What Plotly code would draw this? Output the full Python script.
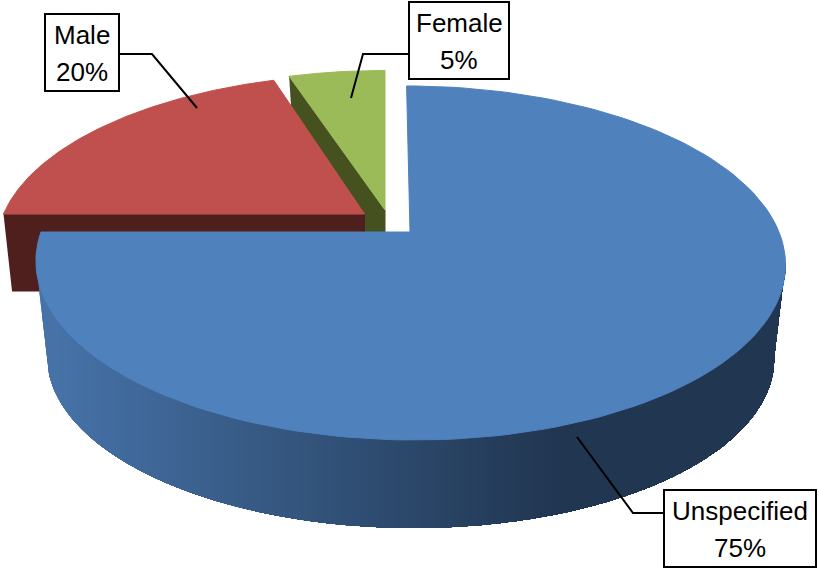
import numpy as np
import plotly.graph_objects as go

categories = ["Unspecified", "Male", "Female"]
values = [75, 20, 5]
top_colors = ["#4F81BD", "#C0504D", "#9BBB59"]
wall_colors = ["#213651", "#4F1F1E", "#45521F"]

W, H = 819, 569
K = 0.175

# exploded slice geometry: apex x, apex y, x radius, y radius, shear
slice_geo = {
    "Unspecified": (410, 232, 369, 171.6, 4),
    "Male": (364.5, 214, 361, 164, -6),
    "Female": (385, 210, 362, 164, 0),
}
# lower rim of the big slice
rim_geo = (410, 328, 358, 165, 3)

# box: x0, y0, x1, y1; leader path
label_boxes = {
    "Unspecified": (664, 490, 816, 567),
    "Male": (45, 14, 119, 91),
    "Female": (409, 2, 509, 79),
}
leaders = {
    "Unspecified": ([664, 633, 577], [513, 513, 437]),
    "Male": ([119, 152, 197], [54, 54, 108]),
    "Female": ([409, 363, 351], [54, 54, 98]),
}

shares = np.array(values, dtype=float) / sum(values) * 360
ends = np.cumsum(shares)
starts = ends - shares
angles = {c: (s, e) for c, s, e in zip(categories, starts, ends)}


def proj(theta_deg, geo):
    x0, y0, a, b, c = geo
    t = np.radians(theta_deg)
    u, v = np.sin(t), np.cos(t)
    w = 1 + K * v
    return x0 + (a * u - c * v) / w, y0 - b * v / w


def wedge(name):
    s, e = angles[name]
    th = np.linspace(s, e, 160)
    x, y = proj(th, slice_geo[name])
    ax, ay = slice_geo[name][:2]
    return np.r_[ax, x, ax], np.r_[ay, y, ay]


def poly(x, y, color, lw=1):
    return go.Scatter(x=list(x), y=list(y), mode="lines", fill="toself",
                      fillcolor=color, line=dict(color=color, width=lw),
                      hoverinfo="skip", showlegend=False)


fig = go.Figure()

# Female wall, then top
gx, gy = proj(angles["Female"][0], slice_geo["Female"])
fig.add_trace(poly([gx, 385, 385, 365, 291], [gy, 210, 232, 236, 105], wall_colors[2]))
x, y = wedge("Female")
fig.add_trace(poly(x, y, top_colors[2]))

# Male wall, then top
lx, ly = proj(angles["Male"][0], slice_geo["Male"])
fig.add_trace(poly([lx, 364.5, 364.5, 60, 12], [ly, 214, 240, 291, 291], wall_colors[1]))
x, y = wedge("Male")
fig.add_trace(poly(x, y, top_colors[1]))

# Big slice wall: painted left to right, each band running to the right end
grad_x = [60, 300, 560]
grad_r = [70, 52, 33]
grad_g = [114, 85, 54]
grad_b = [168, 125, 81]
th_lo = np.linspace(260, 100, 300)
top_x, top_y = proj(th_lo, slice_geo["Unspecified"])
rim_x, rim_y = proj(th_lo, rim_geo)
out_x = np.r_[top_x[0], rim_x, top_x[-1]]
out_y = np.r_[top_y[0], rim_y, top_y[-1]]
bands = np.arange(np.ceil(top_x[0]), 600, 3.0)
for b0 in bands:
    keep = out_x >= b0
    keep_top = top_x >= b0
    xs = np.r_[b0, out_x[keep], top_x[keep_top][::-1], b0]
    ys = np.r_[np.interp(b0, out_x, out_y), out_y[keep], top_y[keep_top][::-1],
               np.interp(b0, top_x, top_y)]
    mx = b0 + 1.5
    col = "rgb(%d,%d,%d)" % (np.interp(mx, grad_x, grad_r), np.interp(mx, grad_x, grad_g),
                             np.interp(mx, grad_x, grad_b))
    fig.add_trace(go.Scatter(x=list(xs), y=list(ys), mode="lines", fill="toself", fillcolor=col,
                             line=dict(width=0), hoverinfo="skip", showlegend=False))

x, y = wedge("Unspecified")
fig.add_trace(poly(x, y, top_colors[0]))

# Leaders
for c in categories:
    fig.add_trace(go.Scatter(x=leaders[c][0], y=leaders[c][1], mode="lines",
                             line=dict(color="black", width=2), hoverinfo="skip",
                             showlegend=False))

shapes = []
annotations = []
for c, v in zip(categories, values):
    x0, y0, x1, y1 = label_boxes[c]
    shapes.append(dict(type="rect", xref="x", yref="y", x0=x0, y0=y0, x1=x1, y1=y1,
                       line=dict(color="black", width=2), fillcolor="white", layer="above"))
    xm = (x0 + x1) / 2
    for txt, yy in ((c, y0 + 21), (f"{v}%", y0 + 58)):
        annotations.append(dict(x=xm, y=yy, xref="x", yref="y", text=txt, showarrow=False,
                                font=dict(family="Liberation Sans", size=26, color="black"),
                                xanchor="center", yanchor="middle"))

fig.update_layout(
    width=W, height=H, margin=dict(l=0, r=0, t=0, b=0),
    paper_bgcolor="white", plot_bgcolor="white", showlegend=False,
    xaxis=dict(range=[0, W], visible=False, fixedrange=True),
    yaxis=dict(range=[H, 0], visible=False, fixedrange=True),
    shapes=shapes, annotations=annotations,
)
fig.write_html("out.html", config={"displayModeBar": False},
               post_script="document.body.style.margin='0';document.body.style.overflow='hidden';")
